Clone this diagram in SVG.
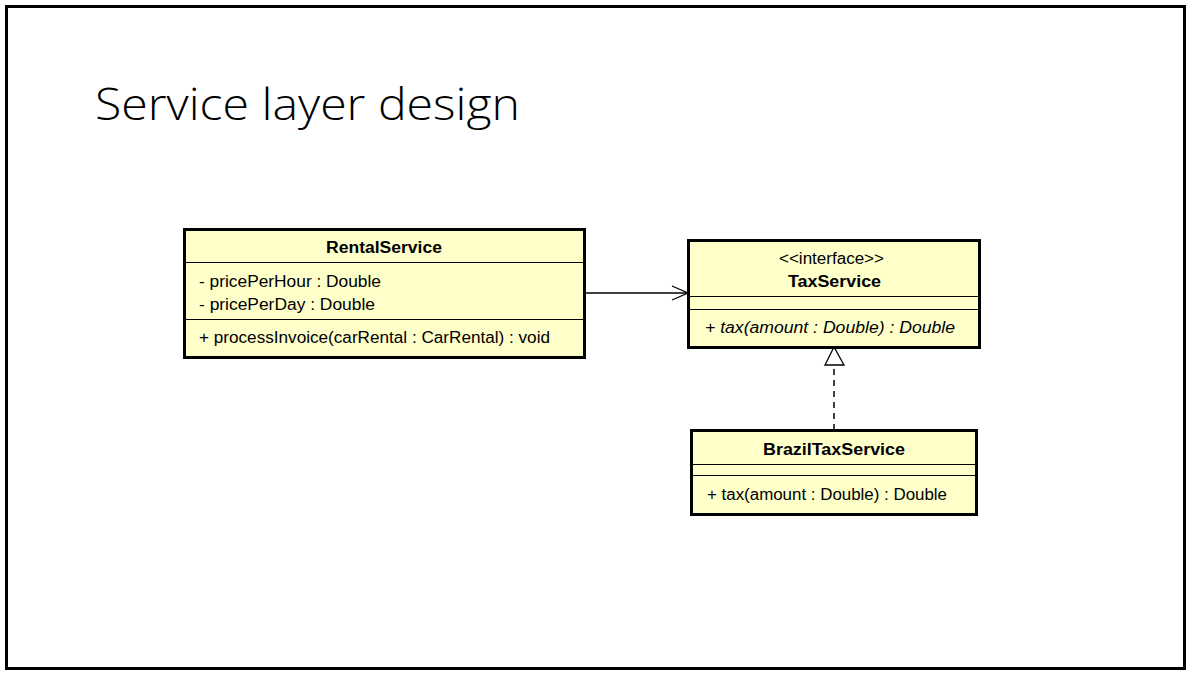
<svg xmlns="http://www.w3.org/2000/svg" width="1194" height="676" viewBox="0 0 1194 676">
<style>
.box{fill:#ffffca;stroke:#000;stroke-width:3}
.sep{stroke:#000;stroke-width:1.2}
.t{font-family:"Liberation Sans",Arial,sans-serif;font-size:16px;fill:#000}
.b{font-weight:bold;text-anchor:middle}
.c{text-anchor:middle}
.i{font-style:italic}
.title{font-family:"Open Sans","Noto Sans",sans-serif;font-weight:300;font-size:44px;fill:#000}
</style>
<defs>
<marker id="open" markerWidth="20" markerHeight="20" refX="17" refY="8" orient="auto" markerUnits="userSpaceOnUse">
<path d="M1,1 L17,8 L1,15" fill="none" stroke="#000" stroke-width="1.3"/>
</marker>
</defs>
<rect x="6.5" y="6.5" width="1178" height="662" fill="#fff" stroke="#000" stroke-width="3"/>
<text class="title" x="95" y="120" textLength="425" lengthAdjust="spacingAndGlyphs">Service layer design</text>
<g id="connectors">
<line x1="585" y1="293" x2="688" y2="293" stroke="#000" stroke-width="1.3" marker-end="url(#open)"/>
<line x1="834" y1="430" x2="834" y2="365" stroke="#000" stroke-width="1.5" stroke-dasharray="6,5"/>
<polygon points="834,347 825,365 844,365" fill="#fff" stroke="#000" stroke-width="1.3"/>
</g>
<g id="RentalService">
<rect class="box" x="184.5" y="229.5" width="400" height="128"/>
<line class="sep" x1="184" y1="262.5" x2="585" y2="262.5"/>
<line class="sep" x1="184" y1="319.5" x2="585" y2="319.5"/>
<text class="t b" x="384" y="253" textLength="116" lengthAdjust="spacingAndGlyphs">RentalService</text>
<text class="t" x="199" y="287" textLength="182" lengthAdjust="spacingAndGlyphs">- pricePerHour : Double</text>
<text class="t" x="199" y="310" textLength="176" lengthAdjust="spacingAndGlyphs">- pricePerDay : Double</text>
<text class="t" x="199" y="343" textLength="351" lengthAdjust="spacingAndGlyphs">+ processInvoice(carRental : CarRental) : void</text>
</g>
<g id="TaxService">
<rect class="box" x="688.5" y="240.5" width="291" height="107"/>
<line class="sep" x1="688" y1="296.5" x2="980" y2="296.5"/>
<line class="sep" x1="688" y1="309.5" x2="980" y2="309.5"/>
<text class="t c" x="831.5" y="264" textLength="105" lengthAdjust="spacingAndGlyphs">&lt;&lt;interface&gt;&gt;</text>
<text class="t b" x="834.5" y="287" textLength="93" lengthAdjust="spacingAndGlyphs">TaxService</text>
<text class="t i" x="705" y="333" textLength="250" lengthAdjust="spacingAndGlyphs">+ tax(amount : Double) : Double</text>
</g>
<g id="BrazilTaxService">
<rect class="box" x="691.5" y="430.5" width="285" height="84"/>
<line class="sep" x1="691" y1="464.5" x2="977" y2="464.5"/>
<line class="sep" x1="691" y1="475.5" x2="977" y2="475.5"/>
<text class="t b" x="834" y="455" textLength="142" lengthAdjust="spacingAndGlyphs">BrazilTaxService</text>
<text class="t" x="707" y="500" textLength="240" lengthAdjust="spacingAndGlyphs">+ tax(amount : Double) : Double</text>
</g>
</svg>
